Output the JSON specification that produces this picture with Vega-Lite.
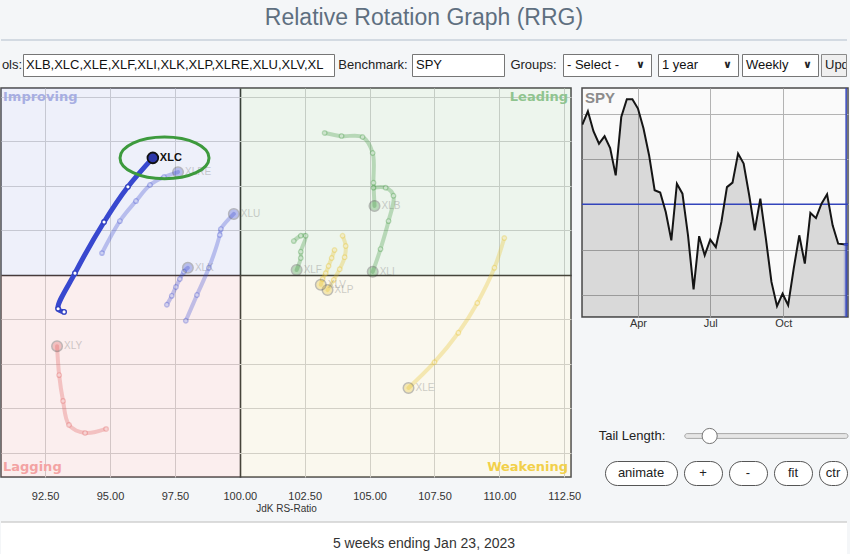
{
  "$schema": "https://vega.github.io/schema/vega-lite/v6.json",
  "padding": 0,
  "background": "#f4f6f8",
  "config": {"view": {"stroke": null}, "font": "Liberation Sans"},
  "datasets": {
    "tails": [
      {"s":"XLC","w":1,"x":93.23,"y":99.17,"q":"Improving"},
      {"s":"XLC","w":2,"x":93.00,"y":99.24,"q":"Improving"},
      {"s":"XLC","w":3,"x":93.65,"y":100.04,"q":"Improving"},
      {"s":"XLC","w":4,"x":94.77,"y":101.19,"q":"Improving"},
      {"s":"XLC","w":5,"x":95.69,"y":101.98,"q":"Improving"},
      {"s":"XLC","w":6,"x":96.65,"y":102.63,"q":"Improving"},
      {"s":"XLRE","w":1,"x":94.69,"y":100.49,"q":"Improving"},
      {"s":"XLRE","w":2,"x":95.38,"y":101.21,"q":"Improving"},
      {"s":"XLRE","w":3,"x":96.00,"y":101.66,"q":"Improving"},
      {"s":"XLRE","w":4,"x":96.54,"y":102.02,"q":"Improving"},
      {"s":"XLRE","w":5,"x":97.08,"y":102.20,"q":"Improving"},
      {"s":"XLRE","w":6,"x":97.62,"y":102.31,"q":"Improving"},
      {"s":"XLU","w":1,"x":97.92,"y":98.97,"q":"Improving"},
      {"s":"XLU","w":2,"x":98.35,"y":99.55,"q":"Improving"},
      {"s":"XLU","w":3,"x":98.81,"y":100.16,"q":"Improving"},
      {"s":"XLU","w":4,"x":99.23,"y":100.90,"q":"Improving"},
      {"s":"XLU","w":5,"x":99.27,"y":101.03,"q":"Improving"},
      {"s":"XLU","w":6,"x":99.77,"y":101.37,"q":"Improving"},
      {"s":"XLK","w":1,"x":97.19,"y":99.33,"q":"Improving"},
      {"s":"XLK","w":2,"x":97.38,"y":99.53,"q":"Improving"},
      {"s":"XLK","w":3,"x":97.54,"y":99.73,"q":"Improving"},
      {"s":"XLK","w":4,"x":97.69,"y":99.91,"q":"Improving"},
      {"s":"XLK","w":5,"x":97.85,"y":100.07,"q":"Improving"},
      {"s":"XLK","w":6,"x":98.00,"y":100.16,"q":"Improving"},
      {"s":"XLB","w":1,"x":103.27,"y":103.19,"q":"Leading"},
      {"s":"XLB","w":2,"x":103.92,"y":103.12,"q":"Leading"},
      {"s":"XLB","w":3,"x":104.73,"y":103.10,"q":"Leading"},
      {"s":"XLB","w":4,"x":105.12,"y":102.74,"q":"Leading"},
      {"s":"XLB","w":5,"x":105.15,"y":102.07,"q":"Leading"},
      {"s":"XLB","w":6,"x":105.19,"y":101.55,"q":"Leading"},
      {"s":"XLI","w":1,"x":105.15,"y":101.96,"q":"Leading"},
      {"s":"XLI","w":2,"x":105.62,"y":101.96,"q":"Leading"},
      {"s":"XLI","w":3,"x":105.92,"y":101.78,"q":"Leading"},
      {"s":"XLI","w":4,"x":105.73,"y":101.21,"q":"Leading"},
      {"s":"XLI","w":5,"x":105.42,"y":100.58,"q":"Leading"},
      {"s":"XLI","w":6,"x":105.12,"y":100.07,"q":"Leading"},
      {"s":"XLF","w":1,"x":102.08,"y":100.76,"q":"Leading"},
      {"s":"XLF","w":2,"x":102.35,"y":100.88,"q":"Leading"},
      {"s":"XLF","w":3,"x":102.54,"y":100.88,"q":"Leading"},
      {"s":"XLF","w":4,"x":102.35,"y":100.52,"q":"Leading"},
      {"s":"XLF","w":5,"x":102.35,"y":100.38,"q":"Leading"},
      {"s":"XLF","w":6,"x":102.19,"y":100.11,"q":"Leading"},
      {"s":"XLP","w":1,"x":103.96,"y":100.88,"q":"Weakening"},
      {"s":"XLP","w":2,"x":104.08,"y":100.65,"q":"Weakening"},
      {"s":"XLP","w":3,"x":104.04,"y":100.40,"q":"Weakening"},
      {"s":"XLP","w":4,"x":103.85,"y":100.13,"q":"Weakening"},
      {"s":"XLP","w":5,"x":103.62,"y":99.89,"q":"Weakening"},
      {"s":"XLP","w":6,"x":103.38,"y":99.66,"q":"Weakening"},
      {"s":"XLV","w":1,"x":103.65,"y":100.56,"q":"Weakening"},
      {"s":"XLV","w":2,"x":103.54,"y":100.38,"q":"Weakening"},
      {"s":"XLV","w":3,"x":103.42,"y":100.20,"q":"Weakening"},
      {"s":"XLV","w":4,"x":103.31,"y":100.04,"q":"Weakening"},
      {"s":"XLV","w":5,"x":103.19,"y":99.91,"q":"Weakening"},
      {"s":"XLV","w":6,"x":103.12,"y":99.78,"q":"Weakening"},
      {"s":"XLE","w":1,"x":110.19,"y":100.83,"q":"Weakening"},
      {"s":"XLE","w":2,"x":109.81,"y":100.16,"q":"Weakening"},
      {"s":"XLE","w":3,"x":109.15,"y":99.37,"q":"Weakening"},
      {"s":"XLE","w":4,"x":108.42,"y":98.70,"q":"Weakening"},
      {"s":"XLE","w":5,"x":107.50,"y":98.04,"q":"Weakening"},
      {"s":"XLE","w":6,"x":106.50,"y":97.46,"q":"Weakening"},
      {"s":"XLY","w":1,"x":94.85,"y":96.54,"q":"Lagging"},
      {"s":"XLY","w":2,"x":94.04,"y":96.45,"q":"Lagging"},
      {"s":"XLY","w":3,"x":93.42,"y":96.63,"q":"Lagging"},
      {"s":"XLY","w":4,"x":93.19,"y":97.17,"q":"Lagging"},
      {"s":"XLY","w":5,"x":93.04,"y":97.75,"q":"Lagging"},
      {"s":"XLY","w":6,"x":92.96,"y":98.40,"q":"Lagging"}
    ],
    "spy": [
      {"d":"2022-01-21","v":435.2},{"d":"2022-01-28","v":441.1},{"d":"2022-02-04","v":432.3},
      {"d":"2022-02-11","v":426.8},{"d":"2022-02-18","v":430.1},{"d":"2022-02-25","v":424.9},
      {"d":"2022-03-04","v":412.8},{"d":"2022-03-11","v":438.6},{"d":"2022-03-18","v":446.4},
      {"d":"2022-03-25","v":446.4},{"d":"2022-04-01","v":442.3},{"d":"2022-04-08","v":433.5},
      {"d":"2022-04-15","v":421.7},{"d":"2022-04-22","v":406.2},{"d":"2022-04-29","v":405.2},
      {"d":"2022-05-06","v":396.6},{"d":"2022-05-13","v":384.1},{"d":"2022-05-20","v":409.1},
      {"d":"2022-05-27","v":404.7},{"d":"2022-06-03","v":386.3},{"d":"2022-06-10","v":362.4},
      {"d":"2022-06-17","v":385.9},{"d":"2022-06-24","v":377.5},{"d":"2022-07-01","v":384.4},
      {"d":"2022-07-08","v":381.1},{"d":"2022-07-15","v":392.2},{"d":"2022-07-22","v":407.6},
      {"d":"2022-07-29","v":409.6},{"d":"2022-08-05","v":422.4},{"d":"2022-08-12","v":418.0},
      {"d":"2022-08-19","v":404.0},{"d":"2022-08-26","v":388.5},{"d":"2022-09-02","v":402.5},
      {"d":"2022-09-09","v":384.8},{"d":"2022-09-16","v":365.7},{"d":"2022-09-23","v":355.0},
      {"d":"2022-09-30","v":360.5},{"d":"2022-10-07","v":355.4},{"d":"2022-10-14","v":371.6},
      {"d":"2022-10-21","v":386.3},{"d":"2022-10-28","v":373.8},{"d":"2022-11-04","v":396.2},
      {"d":"2022-11-11","v":393.9},{"d":"2022-11-18","v":400.3},{"d":"2022-11-25","v":404.4},
      {"d":"2022-12-02","v":390.7},{"d":"2022-12-09","v":382.6},{"d":"2022-12-16","v":382.3},
      {"d":"2022-12-23","v":382.3}
    ]
  },
  "spacing": 0,
  "vconcat": [
    {
      "spacing": 0,
      "vconcat": [
        {
          "width": 846, "height": 40,
          "data": {"values": [{"t": "Relative Rotation Graph (RRG)"}]},
          "layer": [
            {"mark": {"type": "text", "fontSize": 23, "color": "#5e6f80", "dy": -2}, "encoding": {"text": {"field": "t"}}},
            {"mark": {"type": "rule", "color": "#d3dae2", "strokeWidth": 2}, "encoding": {"y": {"datum": 0, "type": "quantitative", "scale": {"domain": [0, 1]}, "axis": null}}}
          ]
        },
        {"width": 1, "height": 12, "data": {"values": []}, "mark": "point"},
        {
          "spacing": 0,
          "bounds": "flush",
          "hconcat": [
            {"width": 22, "height": 22, "data": {"values": [{"t": "ols:"}]}, "mark": {"type": "text", "fontSize": 13, "color": "#222"}, "encoding": {"text": {"field": "t"}}},
            {"width": 311, "height": 22, "view": {"fill": "white", "stroke": "#767676", "strokeWidth": 1}, "data": {"values": [{"t": "XLB,XLC,XLE,XLF,XLI,XLK,XLP,XLRE,XLU,XLV,XL"}]}, "mark": {"type": "text", "fontSize": 13, "color": "#111", "align": "left", "dx": 3, "clip": true}, "encoding": {"text": {"field": "t"}, "x": {"datum": 0, "type": "quantitative", "scale": {"domain": [0, 1]}, "axis": null}}},
            {"width": 78, "height": 22, "data": {"values": [{"t": "Benchmark:"}]}, "mark": {"type": "text", "fontSize": 13, "color": "#222"}, "encoding": {"text": {"field": "t"}}},
            {"width": 92, "height": 22, "view": {"fill": "white", "stroke": "#767676", "strokeWidth": 1}, "data": {"values": [{"t": "SPY"}]}, "mark": {"type": "text", "fontSize": 13, "color": "#111", "align": "left", "dx": 4}, "encoding": {"text": {"field": "t"}, "x": {"datum": 0, "type": "quantitative", "scale": {"domain": [0, 1]}, "axis": null}}},
            {"width": 59, "height": 22, "data": {"values": [{"t": "Groups:"}]}, "mark": {"type": "text", "fontSize": 13, "color": "#222"}, "encoding": {"text": {"field": "t"}}},
            {"width": 88, "height": 22, "view": {"fill": "white", "stroke": "#767676", "strokeWidth": 1}, "data": {"values": [{"t": "- Select -"}]},
             "layer": [
               {"mark": {"type": "text", "fontSize": 13, "color": "#111", "align": "left", "dx": 4}, "encoding": {"text": {"field": "t"}, "x": {"datum": 0, "type": "quantitative", "scale": {"domain": [0, 1]}, "axis": null}}},
               {"mark": {"type": "text", "fontSize": 11, "fontWeight": "bold", "font": "DejaVu Sans", "color": "#222", "align": "right", "dx": -6}, "encoding": {"text": {"value": "∨"}, "x": {"datum": 1, "type": "quantitative"}}}
             ]},
            {"width": 7, "height": 22, "data": {"values": []}, "mark": "point"},
            {"width": 80, "height": 22, "view": {"fill": "white", "stroke": "#767676", "strokeWidth": 1}, "data": {"values": [{"t": "1 year"}]},
             "layer": [
               {"mark": {"type": "text", "fontSize": 13, "color": "#111", "align": "left", "dx": 4}, "encoding": {"text": {"field": "t"}, "x": {"datum": 0, "type": "quantitative", "scale": {"domain": [0, 1]}, "axis": null}}},
               {"mark": {"type": "text", "fontSize": 11, "fontWeight": "bold", "font": "DejaVu Sans", "color": "#222", "align": "right", "dx": -6}, "encoding": {"text": {"value": "∨"}, "x": {"datum": 1, "type": "quantitative"}}}
             ]},
            {"width": 4, "height": 22, "data": {"values": []}, "mark": "point"},
            {"width": 76, "height": 22, "view": {"fill": "white", "stroke": "#767676", "strokeWidth": 1}, "data": {"values": [{"t": "Weekly"}]},
             "layer": [
               {"mark": {"type": "text", "fontSize": 13, "color": "#111", "align": "left", "dx": 4}, "encoding": {"text": {"field": "t"}, "x": {"datum": 0, "type": "quantitative", "scale": {"domain": [0, 1]}, "axis": null}}},
               {"mark": {"type": "text", "fontSize": 11, "fontWeight": "bold", "font": "DejaVu Sans", "color": "#222", "align": "right", "dx": -6}, "encoding": {"text": {"value": "∨"}, "x": {"datum": 1, "type": "quantitative"}}}
             ]},
            {"width": 3, "height": 22, "data": {"values": []}, "mark": "point"},
            {"width": 25, "height": 22, "view": {"fill": "#efefef", "stroke": "#8a8a8a", "strokeWidth": 1}, "data": {"values": [{"t": "Update"}]}, "mark": {"type": "text", "fontSize": 13, "color": "#222", "align": "left", "dx": 4, "clip": true}, "encoding": {"text": {"field": "t"}, "x": {"datum": 0, "type": "quantitative", "scale": {"domain": [0, 1]}, "axis": null}}}
          ]
        },
        {"width": 1, "height": 9, "data": {"values": []}, "mark": "point"}
      ]
    },
    {
      "spacing": -2,
      "hconcat": [
        {
          "width": 570, "height": 389,
          "view": {"fill": "white", "stroke": "#4a4a4a", "strokeWidth": 1.5},
          "layer": [
            {
              "data": {"values": [
                {"name": "Improving", "x1": 90.8, "x2": 100, "y1": 100, "y2": 104.2},
                {"name": "Leading", "x1": 100, "x2": 112.76, "y1": 100, "y2": 104.2},
                {"name": "Lagging", "x1": 90.8, "x2": 100, "y1": 95.46, "y2": 100},
                {"name": "Weakening", "x1": 100, "x2": 112.76, "y1": 95.46, "y2": 100}
              ]},
              "mark": {"type": "rect", "opacity": 0.12},
              "encoding": {
                "x": {"field": "x1", "type": "quantitative", "scale": {"domain": [90.8, 112.76], "nice": false, "zero": false},
                  "axis": {"values": [92.5, 95, 97.5, 100, 102.5, 105, 107.5, 110, 112.5], "format": ".2f", "title": "JdK RS-Ratio",
                    "grid": true, "gridColor": {"condition": {"test": "datum.value === 100", "value": "#333333"}, "value": "#d2d2d2"},
                    "gridWidth": {"condition": {"test": "datum.value === 100", "value": 1.6}, "value": 1},
                    "ticks": false, "domain": false, "labelPadding": 13, "labelFontSize": 11, "labelColor": "#333",
                    "titleFontSize": 10, "titleFontWeight": "normal", "titleColor": "#333", "titlePadding": 2}},
                "x2": {"field": "x2"},
                "y": {"field": "y1", "type": "quantitative", "scale": {"domain": [95.46, 104.2], "nice": false, "zero": false},
                  "axis": {"values": [96, 97, 98, 99, 100, 101, 102, 103, 104], "title": null, "labels": false, "ticks": false, "domain": false,
                    "grid": true, "gridColor": {"condition": {"test": "datum.value === 100", "value": "#333333"}, "value": "#d2d2d2"},
                    "gridWidth": {"condition": {"test": "datum.value === 100", "value": 1.6}, "value": 1},
                    "minExtent": 0, "maxExtent": 0}},
                "y2": {"field": "y2"},
                "fill": {"field": "name", "type": "nominal", "scale": {"domain": ["Improving", "Leading", "Weakening", "Lagging"], "range": ["#7182d5", "#69ac69", "#d5c571", "#de7171"]}, "legend": null}
              }
            },
            {"data": {"values": [{"t": "Improving"}]}, "mark": {"type": "text", "font": "DejaVu Sans", "fontWeight": "bold", "fontSize": 13, "color": "#a7aee2", "align": "left", "baseline": "top", "dx": 2, "dy": 3},
             "encoding": {"x": {"datum": 90.8}, "y": {"datum": 104.2}, "text": {"field": "t"}}},
            {"data": {"values": [{"t": "Leading"}]}, "mark": {"type": "text", "font": "DejaVu Sans", "fontWeight": "bold", "fontSize": 13, "color": "#8fc48f", "align": "right", "baseline": "top", "dx": -3, "dy": 3},
             "encoding": {"x": {"datum": 112.76}, "y": {"datum": 104.2}, "text": {"field": "t"}}},
            {"data": {"values": [{"t": "Lagging"}]}, "mark": {"type": "text", "font": "DejaVu Sans", "fontWeight": "bold", "fontSize": 13, "color": "#f3a3a3", "align": "left", "baseline": "bottom", "dx": 2, "dy": -3},
             "encoding": {"x": {"datum": 90.8}, "y": {"datum": 95.46}, "text": {"field": "t"}}},
            {"data": {"values": [{"t": "Weakening"}]}, "mark": {"type": "text", "font": "DejaVu Sans", "fontWeight": "bold", "fontSize": 13, "color": "#f2d04a", "align": "right", "baseline": "bottom", "dx": -3, "dy": -3},
             "encoding": {"x": {"datum": 112.76}, "y": {"datum": 95.46}, "text": {"field": "t"}}},
            {
              "data": {"name": "tails"},
              "transform": [{"filter": "datum.s !== 'XLC'"}],
              "mark": {"type": "line", "interpolate": "catmull-rom", "strokeWidth": 4, "opacity": 0.3, "strokeCap": "round"},
              "encoding": {
                "x": {"field": "x", "type": "quantitative"},
                "y": {"field": "y", "type": "quantitative"},
                "detail": {"field": "s"},
                "order": {"field": "w", "type": "quantitative"},
                "stroke": {"field": "q", "type": "nominal", "scale": {"domain": ["Improving", "Leading", "Weakening", "Lagging"], "range": ["#3848cf", "#3c963c", "#e8c020", "#e05a5a"]}, "legend": null}
              }
            },
            {
              "data": {"name": "tails"},
              "transform": [{"filter": "datum.s !== 'XLC' && datum.w < 6"}],
              "mark": {"type": "point", "shape": "circle", "size": 22, "filled": true, "fill": "white", "strokeWidth": 1.2, "opacity": 0.3},
              "encoding": {
                "x": {"field": "x", "type": "quantitative"},
                "y": {"field": "y", "type": "quantitative"},
                "stroke": {"field": "q", "type": "nominal", "scale": {"domain": ["Improving", "Leading", "Weakening", "Lagging"], "range": ["#3848cf", "#3c963c", "#e8c020", "#e05a5a"]}, "legend": null}
              }
            },
            {
              "data": {"name": "tails"},
              "transform": [{"filter": "datum.s !== 'XLC' && datum.w === 6"}],
              "mark": {"type": "point", "shape": "circle", "size": 110, "filled": true, "stroke": "#333", "strokeWidth": 1.5, "opacity": 0.3},
              "encoding": {
                "x": {"field": "x", "type": "quantitative"},
                "y": {"field": "y", "type": "quantitative"},
                "color": {"field": "q", "type": "nominal", "scale": {"domain": ["Improving", "Leading", "Weakening", "Lagging"], "range": ["#3848cf", "#3c963c", "#e8c020", "#e05a5a"]}, "legend": null}
              }
            },
            {
              "data": {"name": "tails"},
              "transform": [{"filter": "datum.s !== 'XLC' && datum.w === 6"}],
              "mark": {"type": "text", "align": "left", "baseline": "middle", "dx": 7, "fontSize": 10, "color": "#777", "opacity": 0.35},
              "encoding": {
                "x": {"field": "x", "type": "quantitative"},
                "y": {"field": "y", "type": "quantitative"},
                "text": {"field": "s"}
              }
            },
            {
              "data": {"name": "tails"},
              "transform": [{"filter": "datum.s === 'XLC'"}],
              "mark": {"type": "line", "interpolate": "catmull-rom", "strokeWidth": 5, "color": "#3848cf", "strokeCap": "round"},
              "encoding": {
                "x": {"field": "x", "type": "quantitative"},
                "y": {"field": "y", "type": "quantitative"},
                "order": {"field": "w", "type": "quantitative"}
              }
            },
            {
              "data": {"name": "tails"},
              "transform": [{"filter": "datum.s === 'XLC' && datum.w < 6"}],
              "mark": {"type": "point", "shape": "circle", "size": 20, "filled": true, "fill": "white", "stroke": "#2f3fc0", "strokeWidth": 1.3, "opacity": 1},
              "encoding": {
                "x": {"field": "x", "type": "quantitative"},
                "y": {"field": "y", "type": "quantitative"}
              }
            },
            {
              "data": {"name": "tails"},
              "transform": [{"filter": "datum.s === 'XLC' && datum.w === 6"}],
              "mark": {"type": "point", "shape": "circle", "size": 115, "filled": true, "fill": "#2c36a8", "stroke": "#111", "strokeWidth": 1.8, "opacity": 1},
              "encoding": {
                "x": {"field": "x", "type": "quantitative"},
                "y": {"field": "y", "type": "quantitative"}
              }
            },
            {
              "data": {"name": "tails"},
              "transform": [{"filter": "datum.s === 'XLC' && datum.w === 6"}],
              "mark": {"type": "text", "align": "left", "baseline": "middle", "dx": 7, "fontSize": 11, "fontWeight": "bold", "color": "#111"},
              "encoding": {
                "x": {"field": "x", "type": "quantitative"},
                "y": {"field": "y", "type": "quantitative"},
                "text": {"field": "s"}
              }
            },
            {
              "data": {"values": [{}]},
              "mark": {"type": "point", "shape": "M -1 0 A 1 0.47 0 1 1 1 0 A 1 0.47 0 1 1 -1 0 Z", "size": 7921, "filled": false, "stroke": "#3d9a3d", "strokeWidth": 3, "opacity": 1},
              "encoding": {"x": {"datum": 97.1}, "y": {"datum": 102.63}}
            }
          ]
        },
        {
          "spacing": 0,
          "vconcat": [
            {
              "width": 266, "height": 229,
              "view": {"fill": "#fafafa", "stroke": "#4a4a4a", "strokeWidth": 1.5},
              "layer": [
                {
                  "data": {"name": "spy"},
                  "mark": {"type": "area", "color": "#000", "opacity": 0.13, "clip": true},
                  "encoding": {
                    "x": {"field": "d", "type": "temporal",
                      "scale": {"domain": [{"year": 2022, "month": 1, "date": 20, "hours": 14}, {"year": 2022, "month": 12, "date": 21, "hours": 8}]},
                      "axis": {"values": [{"year": 2022, "month": 4, "date": 1}, {"year": 2022, "month": 7, "date": 1}, {"year": 2022, "month": 10, "date": 1}],
                        "format": "%b", "title": null, "grid": true, "gridColor": "#b3b3b3", "ticks": false, "domain": false,
                        "labelPadding": 0, "labelFontSize": 11, "labelColor": "#333"}},
                    "y": {"field": "v", "type": "quantitative", "scale": {"domain": [350.2, 451.4], "nice": false, "zero": false},
                      "axis": {"values": [360, 370, 380, 390, 400, 410, 420, 430, 440], "title": null, "labels": false, "ticks": false, "domain": false,
                        "grid": true, "gridColor": "#b3b3b3", "minExtent": 0, "maxExtent": 0}},
                    "y2": {"datum": 350.2}
                  }
                },
                {
                  "data": {"name": "spy"},
                  "transform": [{"filter": "time(datum.d) >= time('2022-12-16')"}],
                  "mark": {"type": "area", "color": "#3344cc", "opacity": 0.22, "clip": true},
                  "encoding": {
                    "x": {"field": "d", "type": "temporal"},
                    "y": {"field": "v", "type": "quantitative"},
                    "y2": {"datum": 350.2}
                  }
                },
                {
                  "data": {"values": [{}]},
                  "mark": {"type": "rule", "color": "#3344bb", "strokeWidth": 1.5},
                  "encoding": {"y": {"datum": 400}}
                },
                {
                  "data": {"values": [{}]},
                  "mark": {"type": "rule", "color": "#3344bb", "strokeWidth": 1.5},
                  "encoding": {"x": {"datum": {"year": 2022, "month": 12, "date": 19}, "type": "temporal"}}
                },
                {
                  "data": {"name": "spy"},
                  "mark": {"type": "line", "color": "#151515", "strokeWidth": 2, "clip": true},
                  "encoding": {
                    "x": {"field": "d", "type": "temporal"},
                    "y": {"field": "v", "type": "quantitative"}
                  }
                },
                {
                  "data": {"name": "spy"},
                  "transform": [{"filter": "time(datum.d) >= time('2022-12-16')"}],
                  "mark": {"type": "line", "color": "#3344cc", "strokeWidth": 2, "clip": true},
                  "encoding": {
                    "x": {"field": "d", "type": "temporal"},
                    "y": {"field": "v", "type": "quantitative"}
                  }
                },
                {
                  "data": {"values": [{"t": "SPY"}]},
                  "mark": {"type": "text", "align": "left", "baseline": "top", "dx": 3, "dy": 3, "fontSize": 15, "fontWeight": "bold", "color": "#8c8c8c"},
                  "encoding": {
                    "x": {"datum": {"year": 2022, "month": 1, "date": 20, "hours": 14}, "type": "temporal"},
                    "y": {"datum": 451.4},
                    "text": {"field": "t"}
                  }
                }
              ]
            },
            {"width": 1, "height": 97, "data": {"values": []}, "mark": "point"},
            {
              "spacing": 0,
              "bounds": "flush",
              "hconcat": [
                {"width": 100, "height": 20, "data": {"values": [{"t": "Tail Length:"}]}, "mark": {"type": "text", "fontSize": 13, "color": "#222"}, "encoding": {"text": {"field": "t"}}},
                {
                  "width": 166, "height": 20,
                  "data": {"values": [{}]},
                  "layer": [
                    {"mark": {"type": "rect", "fill": "#e6e6e6", "stroke": "#a8a8a8", "strokeWidth": 1, "cornerRadius": 3},
                     "encoding": {"x": {"datum": 0.5, "type": "quantitative", "scale": {"domain": [0, 30]}, "axis": null}, "x2": {"datum": 30},
                                  "y": {"datum": 0.38, "type": "quantitative", "scale": {"domain": [0, 1]}, "axis": null}, "y2": {"datum": 0.62}}},
                    {"mark": {"type": "point", "shape": "circle", "size": 230, "filled": true, "fill": "white", "stroke": "#767676", "strokeWidth": 1, "opacity": 1},
                     "encoding": {"x": {"datum": 5, "type": "quantitative"}, "y": {"datum": 0.5, "type": "quantitative"}}}
                  ]
                }
              ]
            },
            {"width": 1, "height": 14, "data": {"values": []}, "mark": "point"},
            {
              "spacing": 7,
              "bounds": "flush",
              "hconcat": [
                {"width": 16, "height": 24, "data": {"values": []}, "mark": "point"},
                {"width": 72, "height": 24, "view": {"fill": "white", "stroke": "#555", "strokeWidth": 1, "cornerRadius": 12}, "data": {"values": [{"t": "animate"}]}, "mark": {"type": "text", "fontSize": 13, "color": "#222"}, "encoding": {"text": {"field": "t"}}},
                {"width": 38, "height": 24, "view": {"fill": "white", "stroke": "#555", "strokeWidth": 1, "cornerRadius": 12}, "data": {"values": [{"t": "+"}]}, "mark": {"type": "text", "fontSize": 13, "color": "#222"}, "encoding": {"text": {"field": "t"}}},
                {"width": 38, "height": 24, "view": {"fill": "white", "stroke": "#555", "strokeWidth": 1, "cornerRadius": 12}, "data": {"values": [{"t": "-"}]}, "mark": {"type": "text", "fontSize": 13, "color": "#222"}, "encoding": {"text": {"field": "t"}}},
                {"width": 38, "height": 24, "view": {"fill": "white", "stroke": "#555", "strokeWidth": 1, "cornerRadius": 12}, "data": {"values": [{"t": "fit"}]}, "mark": {"type": "text", "fontSize": 13, "color": "#222"}, "encoding": {"text": {"field": "t"}}},
                {"width": 28, "height": 24, "view": {"fill": "white", "stroke": "#555", "strokeWidth": 1, "cornerRadius": 12}, "data": {"values": [{"t": "ctr"}]}, "mark": {"type": "text", "fontSize": 13, "color": "#222"}, "encoding": {"text": {"field": "t"}}}
              ]
            },
            {"width": 1, "height": 35, "data": {"values": []}, "mark": "point"}
          ]
        }
      ]
    },
    {
      "width": 846, "height": 32,
      "view": {"fill": "white"},
      "data": {"values": [{"t": "5 weeks ending Jan 23, 2023"}]},
      "layer": [
        {"mark": {"type": "text", "fontSize": 14, "color": "#333", "dy": 6}, "encoding": {"text": {"field": "t"}}},
        {"mark": {"type": "rule", "color": "#d0d0d0", "strokeWidth": 1.5}, "encoding": {"y": {"datum": 1, "type": "quantitative", "scale": {"domain": [0, 1]}, "axis": null}}}
      ]
    }
  ]
}
